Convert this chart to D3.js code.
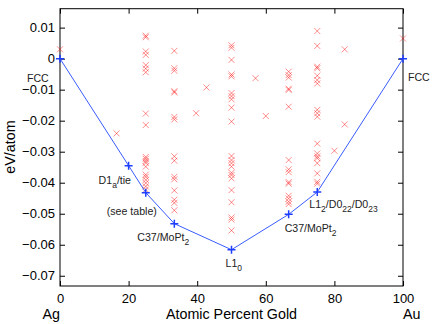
<!DOCTYPE html>
<html>
<head>
<meta charset="utf-8">
<script src="https://cdn.jsdelivr.net/npm/d3@7"></script>
<style>
  body { margin: 0; background: #fff; }
  text { font-family: "Liberation Sans", Arial, Helvetica, sans-serif; }
</style>
</head>
<body>
<div id="content"></div>
<script>
// ground state hull (percent Au, eV/atom)
var hullX = [0, 20, 25, 100 / 3, 50, 200 / 3, 75, 100];
var hullE = [0, -0.0345, -0.0432, -0.0532, -0.0616, -0.0502, -0.0430, 0];

// other structures, one list per composition
var compX = [0, 16.5, 25, 100 / 3, 39.7, 42.7, 50, 57, 60, 200 / 3, 75, 80, 83, 100];
var compE = [
  [0.003],
  [-0.0241],
  [0.0074, 0.0069, 0.0023, 0.0012, -0.0021, -0.0032, -0.0044, -0.0177, -0.0214,
   -0.0317, -0.0323, -0.0330, -0.0336, -0.0348, -0.0374, -0.0381, -0.0391, -0.0401, -0.0412, -0.0422],
  [0.0025, -0.0031, -0.0039, -0.0105, -0.0109, -0.0188, -0.0196, -0.0315, -0.0329,
   -0.0381, -0.0389, -0.0425, -0.0455, -0.0465, -0.0489],
  [-0.0176],
  [-0.0093],
  [0.0043, 0.0035, -0.0004, -0.0051, -0.0057, -0.0111, -0.0121, -0.0131, -0.0158, -0.0203,
   -0.0314, -0.0327, -0.0337, -0.0348, -0.0368, -0.0375, -0.0386, -0.0424, -0.0463, -0.0512, -0.0519, -0.0554],
  [-0.0063],
  [-0.0185],
  [-0.0042, -0.0053, -0.0061, -0.0097, -0.0101, -0.0155, -0.0327, -0.0357, -0.0366,
   -0.0398, -0.0403, -0.0442, -0.0451, -0.0461, -0.0469],
  [0.0089, 0.0041, -0.0026, -0.0031, -0.0055, -0.0069, -0.0080, -0.0165, -0.0176, -0.0187,
   -0.0274, -0.0306, -0.0315, -0.0321, -0.0337, -0.0370, -0.0397, -0.0403],
  [-0.0297],
  [0.003, -0.0212],
  [0.0065]
];

var xTicks = [0, 20, 40, 60, 80, 100];
var yTicks = [0.01, 0, -0.01, -0.02, -0.03, -0.04, -0.05, -0.06, -0.07];

// labels next to hull points: [hull index, parts] where parts are [text, isSub]
var hullLabels = [
  [0, [["FCC", 0]]],
  [7, [["FCC", 0]]],
  [1, [["D1", 0], ["a", 1], ["/tie", 0]]],
  [2, [["(see table)", 0]]],
  [3, [["C37/MoPt", 0], ["2", 1]]],
  [4, [["L1", 0], ["0", 1]]],
  [5, [["C37/MoPt", 0], ["2", 1]]],
  [6, [["L1", 0], ["2", 1], ["/D0", 0], ["22", 1], ["/D0", 0], ["23", 1]]]
];
var labelOffsets = [[-33, 23], [5, 22], [-30, 18], [-39, 22], [-37, 17], [-6, 17], [-4, 18], [-8, 16]];

var width = 436, height = 324;
var margin = {top: 8.7, right: 33, bottom: 38, left: 60};
var w = width - margin.left - margin.right;
var h = height - margin.top - margin.bottom;

var svg = d3.select("#content").append("svg")
  .attr("width", width)
  .attr("height", height)
  .style("background", "#fff");

var g = svg.append("g")
  .attr("transform", "translate(" + margin.left + "," + margin.top + ")");

var x = d3.scaleLinear().domain([0, 100]).range([0, w]);
var y = d3.scaleLinear().domain([-0.0733, 0.0161]).range([h, 0]);

var fmt = function(d) { return d === 0 ? "0" : d3.format(".2f")(d).replace("-", "\u2212"); };

// axes with inward ticks on all four sides
var axB = g.append("g").attr("transform", "translate(0," + h + ")")
  .call(d3.axisBottom(x).tickValues(xTicks).tickSizeInner(-5).tickSizeOuter(0).tickPadding(8));
var axL = g.append("g")
  .call(d3.axisLeft(y).tickValues(yTicks).tickSizeInner(-5).tickSizeOuter(0).tickPadding(5).tickFormat(fmt));
var axT = g.append("g")
  .call(d3.axisTop(x).tickValues(xTicks).tickSizeInner(-5).tickSizeOuter(0).tickFormat(""));
var axR = g.append("g").attr("transform", "translate(" + w + ",0)")
  .call(d3.axisRight(y).tickValues(yTicks).tickSizeInner(-5).tickSizeOuter(0).tickFormat(""));

[axB, axL, axT, axR].forEach(function(a) {
  a.select(".domain").remove();
  a.selectAll("line").attr("stroke", "#000");
  a.selectAll("text").attr("font-size", 13).attr("fill", "#000")
    .style("font-family", '"Liberation Sans", Arial, sans-serif');
});

g.append("rect")
  .attr("width", w).attr("height", h)
  .attr("fill", "none").attr("stroke", "#000").attr("stroke-width", 1);

// red x markers for all other structures
var pts = [];
compX.forEach(function(cx, i) {
  compE[i].forEach(function(e) { pts.push([cx, e]); });
});
var s = 3;
g.append("g").selectAll("path.cross")
  .data(pts)
  .enter().append("path")
  .attr("class", "cross")
  .attr("d", function(d) {
    var px = x(d[0]), py = y(d[1]);
    return "M" + (px - s) + "," + (py - s) + "L" + (px + s) + "," + (py + s) +
           "M" + (px - s) + "," + (py + s) + "L" + (px + s) + "," + (py - s);
  })
  .attr("stroke", "#ff0000")
  .attr("stroke-opacity", 0.45)
  .attr("stroke-width", 1)
  .attr("fill", "none");

// hull line
var hull = hullX.map(function(v, i) { return [v, hullE[i]]; });
g.append("path")
  .datum(hull)
  .attr("d", d3.line().x(function(d) { return x(d[0]); }).y(function(d) { return y(d[1]); }))
  .attr("fill", "none")
  .attr("stroke", "#3a5cff")
  .attr("stroke-width", 1);

var p = 4;
g.append("g").selectAll("path.plus")
  .data(hull)
  .enter().append("path")
  .attr("class", "plus")
  .attr("d", function(d) {
    var px = x(d[0]), py = y(d[1]);
    return "M" + (px - p) + "," + py + "L" + (px + p) + "," + py +
           "M" + px + "," + (py - p) + "L" + px + "," + (py + p);
  })
  .attr("stroke", "#1f3fff")
  .attr("stroke-width", 1.5)
  .attr("fill", "none");

// structure labels
hullLabels.forEach(function(lab, i) {
  var hp = hull[lab[0]];
  var t = g.append("text")
    .attr("x", x(hp[0]) + labelOffsets[i][0])
    .attr("y", y(hp[1]) + labelOffsets[i][1])
    .attr("font-size", 10.6)
    .attr("fill", "#222");
  var sub = 0;
  lab[1].forEach(function(part) {
    var ts = t.append("tspan").text(part[0]);
    if (part[1] && !sub) { ts.attr("dy", 4).attr("font-size", 8.5); sub = 1; }
    else if (part[1]) { ts.attr("font-size", 8.5); }
    else if (sub) { ts.attr("dy", -4); sub = 0; }
  });
});

// axis titles
svg.append("text")
  .attr("transform", "translate(15,147) rotate(-90)")
  .attr("text-anchor", "middle")
  .attr("font-size", 14.3)
  .text("eV/atom");

svg.append("text")
  .attr("x", margin.left + x(50))
  .attr("y", 319)
  .attr("text-anchor", "middle")
  .attr("font-size", 14.3)
  .text("Atomic Percent Gold");

svg.append("text")
  .attr("x", margin.left + x(0))
  .attr("y", 319)
  .attr("text-anchor", "end")
  .attr("font-size", 14.3)
  .text("Ag");

svg.append("text")
  .attr("x", margin.left + x(100))
  .attr("y", 319)
  .attr("text-anchor", "start")
  .attr("font-size", 14.3)
  .text("Au");
</script>
</body>
</html>
